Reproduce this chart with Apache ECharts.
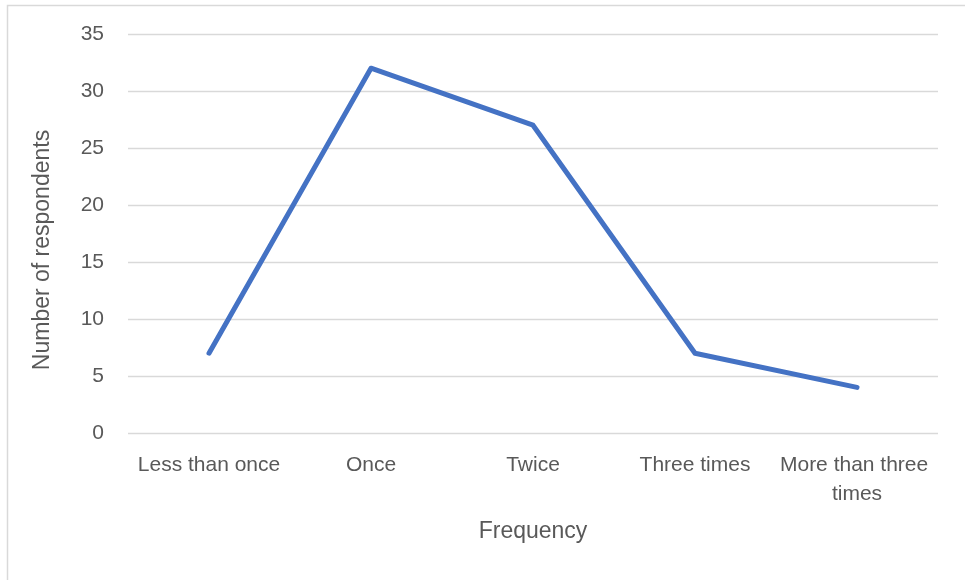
<!DOCTYPE html>
<html>
<head>
<meta charset="utf-8">
<script src="https://cdn.jsdelivr.net/npm/echarts@6/dist/echarts.min.js"></script>
<style>
  html, body { margin: 0; padding: 0; background: #ffffff; }
  #chart { width: 965px; height: 580px; }
</style>
</head>
<body>
<div id="chart"></div>
<script>
// Survey: how often respondents did it
const categories = ['Less than once', 'Once', 'Twice', 'Three times', 'More than three times'];
const respondents = [7, 32, 27, 7, 4];
const yTicks = { min: 0, max: 35, step: 5 };
const xTitle = 'Frequency';
const yTitle = 'Number of respondents';

const FONT = '"Liberation Sans", Arial, sans-serif';
const TEXT = '#595959';

const chart = echarts.init(document.getElementById('chart'), null, { renderer: 'canvas' });
chart.setOption({
  animation: false,
  backgroundColor: '#ffffff',
  grid: { left: 128, right: 27, top: 34, bottom: 147, containLabel: false },
  xAxis: {
    type: 'category',
    data: categories,
    boundaryGap: true,
    axisLine: { show: false },
    axisTick: { show: false },
    splitLine: { show: false },
    axisLabel: {
      color: TEXT, fontFamily: FONT, fontSize: 21, lineHeight: 29,
      margin: 18, width: 162, overflow: 'break', interval: 0
    }
  },
  yAxis: {
    type: 'value',
    min: yTicks.min, max: yTicks.max, interval: yTicks.step,
    axisLine: { show: false },
    axisTick: { show: false },
    splitLine: { lineStyle: { color: '#d9d9d9', width: 1.3 } },
    axisLabel: { color: TEXT, fontFamily: FONT, fontSize: 21, margin: 24 }
  },
  series: [{
    type: 'line',
    data: respondents,
    symbol: 'none',
    lineStyle: { color: '#4472C4', width: 5, cap: 'round', join: 'round' }
  }],
  graphic: [
    {
      type: 'rect', silent: true, z: -1,
      shape: { x: 7.5, y: 5.5, width: 990, height: 620 },
      style: { fill: null, stroke: '#d9d9d9', lineWidth: 1.5 }
    },
    {
      type: 'text', x: 533, y: 532,
      style: { text: xTitle, fill: TEXT, font: '23px ' + FONT, textAlign: 'center', textVerticalAlign: 'middle' }
    },
    {
      type: 'text', x: 43, y: 250, rotation: Math.PI / 2,
      style: { text: yTitle, fill: TEXT, font: '23px ' + FONT, textAlign: 'center', textVerticalAlign: 'middle' }
    }
  ]
});
</script>
</body>
</html>
